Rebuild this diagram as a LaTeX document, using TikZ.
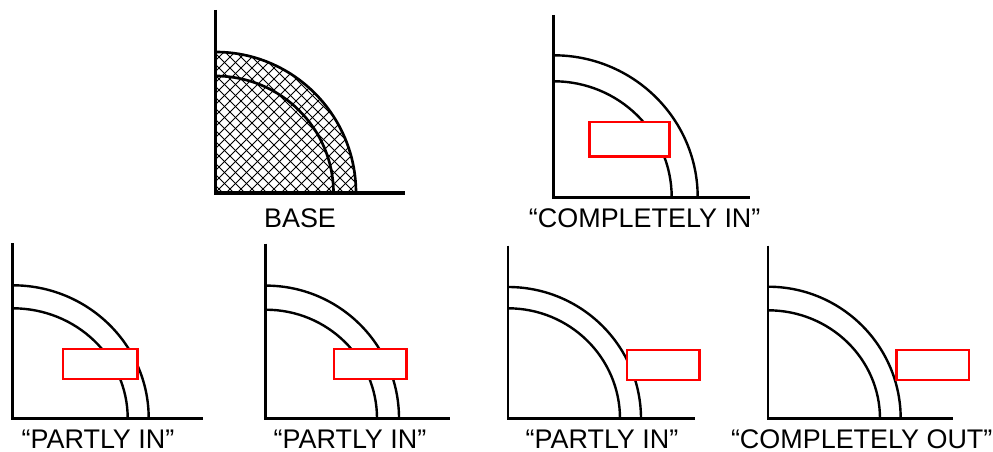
\documentclass[tikz,border=0pt]{standalone}
\usepackage{fontspec}
\setmainfont{Liberation Sans}
\usetikzlibrary{positioning}

% one quadrant: origin x, origin y, axis top, axis end, outer rx, ry, inner rx, ry
\newcommand{\quadrant}[8]{
    \draw[axis] (#1,#3) -- (#1,#2) -- (#4,#2);
    \draw[ring] (#1+#5,#2) arc[start angle=0,end angle=90,x radius=#5,y radius=#6];
    \draw[ring] (#1+#7,#2) arc[start angle=0,end angle=90,x radius=#7,y radius=#8];
}

\begin{document}
\begin{tikzpicture}[
    x=0.75pt, y=0.75pt,
    axis/.style={draw=black, line width=1.9pt},
    ring/.style={draw=black, line width=1.8pt},
    hatchline/.style={draw=black, line width=0.7pt},
    window/.style={draw=red, line width=1.9pt, fill=white, minimum width=54.5pt, minimum height=22.5pt, inner sep=0pt, outer sep=0pt},
    caption/.style={font=\fontsize{20.2}{24}\selectfont, inner sep=0pt, anchor=base},
]
    \useasboundingbox (0,0) rectangle (993,451);

    % base panel with the cross hatch
    \begin{scope}
        \clip (215.5,258) -- (356,258) arc[start angle=0,end angle=90,x radius=140.5,y radius=141] -- cycle;
        \foreach \d in {-396,-385,...,396} {
            \draw[hatchline] (285+\d-200,328-200) -- (285+\d+200,328+200);
            \draw[hatchline] (285+\d-200,328+200) -- (285+\d+200,328-200);
        }
    \end{scope}
    \begin{scope}[axis/.append style={line width=2.3pt}, ring/.append style={line width=2pt}]
        \quadrant{215.5}{258}{441}{405}{140.5}{141}{118}{117}
    \end{scope}
    \node[caption] (base) at (300,224) {BASE};

    % completely in
    \quadrant{553.7}{253.7}{436}{750}{144}{142}{118}{116}
    \node[window, minimum width=60pt, minimum height=25.7pt] (boxa) at (629.3,311.8) {};
    \node[caption] (ina) at (644.7,224) {“COMPLETELY IN”};

    % partly in, three times
    \quadrant{12.7}{32.7}{208}{203}{136}{133}{115}{110}
    \node[window, minimum width=56pt] (boxb) at (100.2,87) {};
    \node[caption] (partb) at (98,2.5) {“PARTLY IN”};

    \quadrant{265.7}{32.7}{207.5}{450}{133.3}{132.7}{111.3}{108.6}
    \node[window] (boxc) at (370.2,87) {};
    \node[caption] (partc) at (350,2.5) {“PARTLY IN”};

    \quadrant{508}{32.3}{205.3}{695}{133}{131.7}{112}{110.4}
    \node[window] (boxd) at (663.3,86) {};
    \node[caption] (partd) at (602,2.5) {“PARTLY IN”};

    % completely out
    \quadrant{768}{32.3}{205.3}{953.3}{132.7}{132}{112}{108.4}
    \node[window] (boxe) at (932.8,86) {};
    \node[caption] (oute) at (861.7,2.5) {“COMPLETELY OUT”};
\end{tikzpicture}
\end{document}
